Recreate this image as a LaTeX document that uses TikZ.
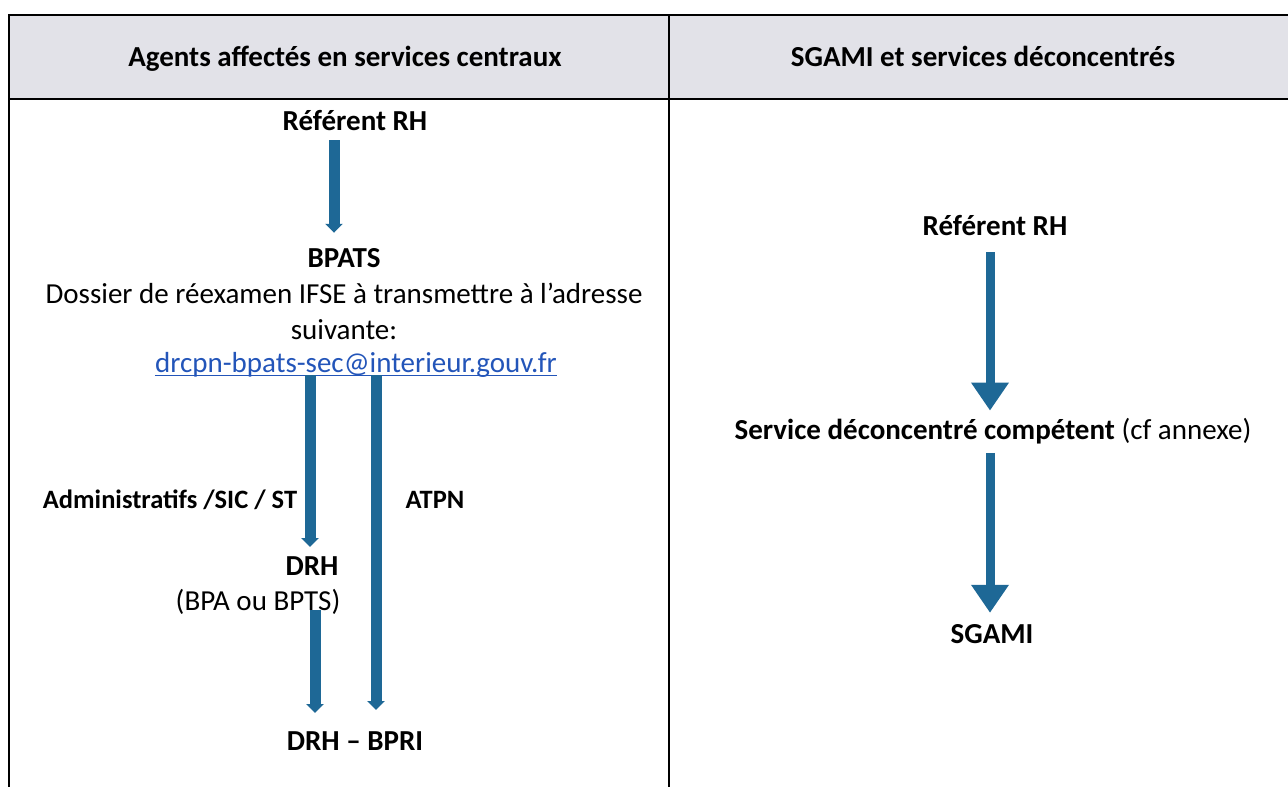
\documentclass[tikz,border=0pt]{standalone}
\usepackage{fontspec}
\setmainfont{Carlito}
\usetikzlibrary{arrows.meta}
\definecolor{hdrgray}{RGB}{226,226,232}
\definecolor{flowblue}{RGB}{30,104,150}
\definecolor{linkblue}{RGB}{35,85,185}

\begin{document}
\begin{tikzpicture}[x=1pt, y=-1pt,
  every node/.style={inner sep=0pt, anchor=base, font=\fontsize{29}{35}\selectfont},
  title/.style={font=\fontsize{29}{35}\selectfont\bfseries},
  branch/.style={font=\fontsize{26.5}{32}\selectfont\bfseries},
  smallarrow/.style={flowblue, line width=11pt, -{Triangle[width=17pt, length=9pt]}},
  bigarrow/.style={flowblue, line width=9pt, -{Triangle[width=36pt, length=28pt]}}]
\useasboundingbox (0,0) rectangle (1288,787);

% Table frame
\fill[hdrgray] (9,15) rectangle (1300,99);
\draw[line width=2.5pt] (1300,15) -- (9,15) -- (9,800);
\draw[line width=2.5pt] (9,99) -- (1300,99);
\draw[line width=2.5pt] (669,15) -- (669,800);

% Headers
\node[title] (hleft) at (345,66) {Agents affectés en services centraux};
\node[title] (hright) at (983,66) {SGAMI et services déconcentrés};

% Left column: services centraux
\node[title] (refl) at (355,130) {Référent RH};
\node[title] (bpats) at (344,267) {BPATS};
\node (dossier) at (344,303) {Dossier de réexamen IFSE à transmettre à l’adresse};
\node (suivante) at (344,339) {suivante:};
\node[linkblue] (email) at (356,372) {drcpn-bpats-sec@interieur.gouv.fr};
\draw[linkblue, line width=1.3pt] ([yshift=-3.5pt]email.base west) -- ([yshift=-3.5pt]email.base east);
\node[branch] (admin) at (170,508) {Administratifs /SIC / ST};
\node[branch] (atpn) at (435,508) {ATPN};
\node[title] (drh) at (312,575) {DRH};
\node (bpa) at (258,610) {(BPA ou BPTS)};
\node[title] (bpri) at (355,750) {DRH – BPRI};

% Right column: SGAMI
\node[title] (refr) at (995,235) {Référent RH};
\node (service) at (993,439) {\bfseries Service déconcentré compétent \mdseries(cf annexe)};
\node[title] (sgami) at (992,643) {SGAMI};

% Arrow columns
\coordinate (colA) at (334,0);
\coordinate (colB) at (310,0);
\coordinate (colC) at (376,0);
\coordinate (colD) at (315,0);
\coordinate (colE) at (990,0);

% Arrows
\draw[smallarrow, shorten <=10pt, shorten >=15pt] (refl.south -| colA) -- (bpats.north -| colA);
\draw[smallarrow, shorten <=-2pt, shorten >=9pt] (email.south -| colB) -- (drh.north -| colB);
\draw[smallarrow, shorten <=-2pt, shorten >=21pt] (email.south -| colC) -- (bpri.north -| colC);
\draw[smallarrow, shorten <=-4pt, shorten >=18pt] (bpa.south -| colD) -- (bpri.north -| colD);
\draw[bigarrow, shorten <=17pt, shorten >=7pt] (refr.south -| colE) -- (service.north -| colE);
\draw[bigarrow, shorten <=9pt, shorten >=11pt] (service.south -| colE) -- (sgami.north -| colE);
\end{tikzpicture}
\end{document}
